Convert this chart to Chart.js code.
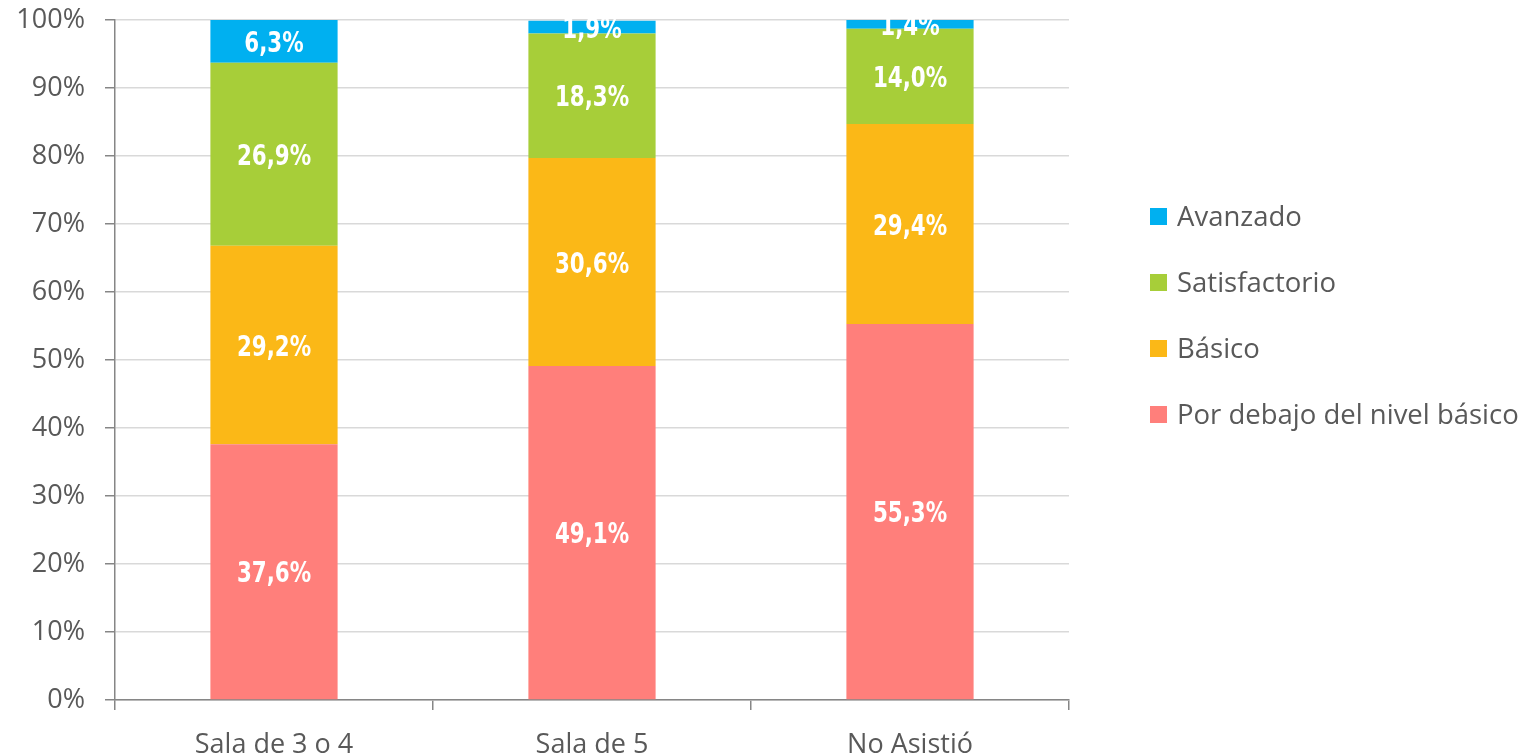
<!DOCTYPE html>
<html>
<head>
<meta charset="utf-8">
<script src="https://cdn.jsdelivr.net/npm/chart.js@4"></script>
<style>
  html, body { margin: 0; padding: 0; background: #fff; }
  #wrap { width: 1531px; height: 756px; }
</style>
</head>
<body>
<div id="wrap"><canvas id="chart" width="1531" height="756"></canvas></div>
<script>
// Distribución por nivel de desempeño según asistencia a sala

const categories = ['Sala de 3 o 4', 'Sala de 5', 'No Asistió'];
const porDebajo = [37.6, 49.1, 55.3];
const basico = [29.2, 30.6, 29.4];
const satisfactorio = [26.9, 18.3, 14.0];
const avanzado = [6.3, 1.9, 1.4];
const yTicks = [0, 10, 20, 30, 40, 50, 60, 70, 80, 90, 100];

const textGray = '#595959';
const axisGray = '#868686';
const uiFont = "'Open Sans', 'Noto Sans', sans-serif";

const fmt = v => v.toFixed(1).replace('.', ',') + '%';

// white value labels in the middle of each segment (condensed look)
const segLabels = {
  id: 'segLabels',
  afterDatasetsDraw(chart){
    const ctx = chart.ctx;
    const sx = 0.82;
    ctx.save();
    ctx.fillStyle = '#fff';
    ctx.font = "bold 29px 'DejaVu Sans Condensed', 'DejaVu Sans', sans-serif";
    ctx.textAlign = 'center';
    ctx.textBaseline = 'middle';
    chart.data.datasets.forEach((ds, i) => {
      const meta = chart.getDatasetMeta(i);
      meta.data.forEach((bar, j) => {
        const p = bar.getProps(['x', 'y', 'base'], true);
        ctx.save();
        ctx.translate(p.x, (p.y + p.base) / 2 + 3);
        ctx.scale(sx, 1);
        ctx.fillText(fmt(ds.data[j]), 0, 0);
        ctx.restore();
      });
    });
    ctx.restore();
  }
};

// legend on the right, top series first
const sideLegend = {
  id: 'sideLegend',
  afterDraw(chart){
    const ctx = chart.ctx;
    const area = chart.chartArea;
    const items = chart.data.datasets.slice().reverse();
    const x0 = area.right + 81;
    const y0 = 217;
    const step = 66;
    ctx.save();
    ctx.font = '27.5px ' + uiFont;
    ctx.textBaseline = 'middle';
    ctx.textAlign = 'left';
    items.forEach((ds, i) => {
      const y = y0 + i * step;
      ctx.fillStyle = ds.backgroundColor;
      ctx.fillRect(x0, y - 9, 17, 17);
      ctx.fillStyle = textGray;
      ctx.fillText(ds.label, x0 + 27, y + 1);
    });
    ctx.restore();
  }
};

new Chart(document.getElementById('chart').getContext('2d'), {
  type: 'bar',
  data: {
    labels: categories,
    datasets: [
      { label: 'Por debajo del nivel básico', data: porDebajo, backgroundColor: '#FF7F7B' },
      { label: 'Básico', data: basico, backgroundColor: '#FBB817' },
      { label: 'Satisfactorio', data: satisfactorio, backgroundColor: '#A7CE39' },
      { label: 'Avanzado', data: avanzado, backgroundColor: '#00B0F0' }
    ]
  },
  options: {
    responsive: false,
    animation: false,
    layout: { padding: { top: 20, right: 462, left: 0, bottom: 0 } },
    datasets: { bar: { categoryPercentage: 1, barPercentage: 0.4, borderWidth: 0 } },
    plugins: { legend: { display: false }, tooltip: { enabled: false } },
    scales: {
      x: {
        stacked: true,
        afterFit: s => { s.height = 56; s.paddingLeft = 0; s.paddingRight = 0; },
        grid: { offset: true, drawOnChartArea: false, tickLength: 10, tickColor: axisGray, lineWidth: 1.5 },
        border: { color: axisGray, width: 1.5 },
        ticks: { color: textGray, font: { family: uiFont, size: 27 }, padding: 19 }
      },
      y: {
        stacked: true,
        min: 0,
        max: 100,
        afterFit: s => { s.width = 115; s.paddingTop = 0; s.paddingBottom = 0; },
        afterBuildTicks: s => { s.ticks = yTicks.map(v => ({ value: v })); },
        grid: { color: '#D9D9D9', lineWidth: 1.5, tickLength: 10, tickColor: axisGray },
        border: { color: axisGray, width: 1.5 },
        ticks: { color: textGray, font: { family: uiFont, size: 27 }, padding: 20, callback: v => v + '%' }
      }
    }
  },
  plugins: [segLabels, sideLegend]
});
</script>
</body>
</html>
